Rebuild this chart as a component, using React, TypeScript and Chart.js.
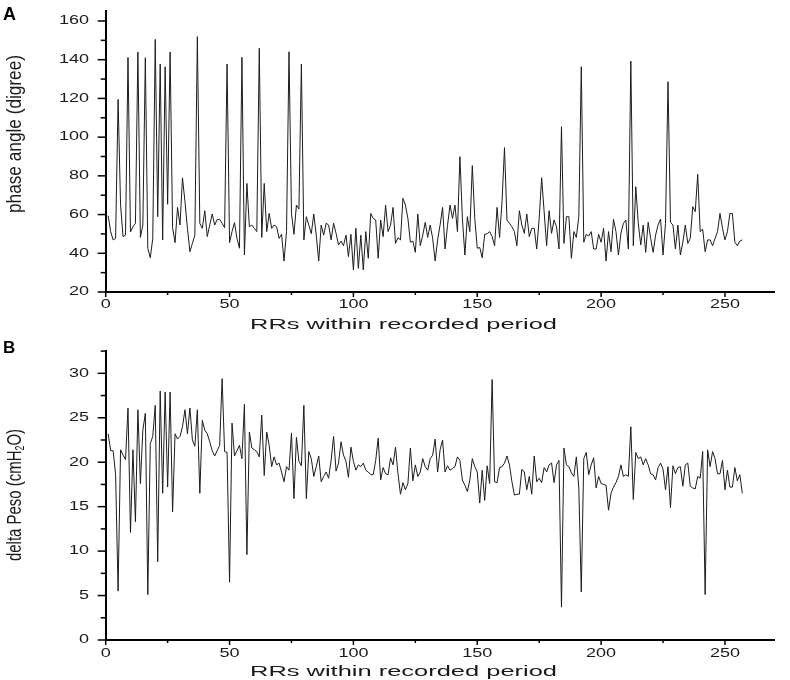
import React, { useEffect, useRef } from 'react';
import { Chart, registerables } from 'chart.js';

Chart.register(...registerables);

// ---------- data ----------
// RR number runs 1..257 (x = position in array + 1)
const phaseAngle: number[] = [
  59.4, 51.2, 46.9, 47.7, 119.5, 65, 48.6, 49.4, 141.2, 51,
  53.7, 55.5, 144, 48.2, 54.6, 141, 42.6, 37.7, 47.7, 150.5,
  58.9, 137.8, 46.9, 136.4, 65.3, 144, 53.2, 45.5, 63.7, 54.6,
  79, 66.7, 52.9, 40.8, 45.1, 49.4, 151.9, 55.5, 52.9, 62,
  48.6, 54.6, 60.3, 54.6, 57.5, 57.5, 55.5, 53.2, 137.8, 45.5,
  51.2, 55.8, 47.7, 42.6, 141.2, 39.1, 76.1, 53.7, 54.6, 52.9,
  51.2, 145.9, 48.2, 76.1, 51.2, 60.6, 52.9, 54.6, 53.7, 47.7,
  49.8, 36, 51.2, 144.1, 60.6, 49.8, 64.9, 62.9, 137.8, 46.9,
  58.9, 54.6, 50.1, 60.3, 49.4, 36, 54.6, 49.4, 55.5, 54.6,
  46.9, 55.5, 50.3, 44.3, 46.3, 43.9, 49.4, 38.3, 49.8, 31.4,
  52.9, 32.2, 49.4, 31.4, 51.2, 37.4, 60.6, 58, 57.2, 37.4,
  57.2, 48.6, 64.9, 51.2, 54.6, 63.7, 45.1, 48.1, 46.9, 68.4,
  64.9, 58, 45.7, 46.3, 40.5, 60.3, 43.9, 49.4, 56, 48.2,
  54.6, 47.7, 36, 46.9, 54.6, 63.7, 42.2, 54.3, 64.9, 58,
  64.9, 51.2, 89.9, 58, 39.1, 58.9, 51.2, 85.3, 58, 42.6,
  43, 37.7, 49.8, 50.1, 51.2, 48.6, 43.9, 63.7, 48.2, 66.7,
  94.6, 57.2, 55.5, 53.7, 51.2, 43.9, 62, 54.6, 50.3, 60.3,
  48.6, 52.9, 52.9, 42.2, 58, 79, 61.5, 43.9, 62, 50.3,
  57.2, 53.7, 42.2, 105.4, 45.1, 58.9, 58.9, 37.4, 51.2, 48.2,
  58.9, 136.4, 45.7, 49.8, 48.9, 51.2, 42.2, 42.2, 49.8, 45.7,
  52.9, 36, 51.2, 40.8, 57.5, 51.2, 39.1, 50.3, 55.5, 57.2,
  42.2, 139.3, 43.9, 74.4, 55.5, 44.3, 54.6, 40.5, 56, 47.7,
  40.5, 49.4, 54.6, 57.7, 39.1, 55.5, 128.6, 56, 54.6, 42.2,
  54.6, 39.1, 45.7, 54.6, 45.1, 47.7, 64.1, 61.5, 80.8, 51.2,
  52.4, 40.8, 46.9, 46.9, 43.9, 47.7, 51.2, 60.6, 52.9, 46.9,
  51.2, 60.6, 60.6, 45.7, 43.9, 46.3, 46.9,
];

const deltaPeso: number[] = [
  23.2, 21.3, 21.3, 18.6, 5.5, 21.4, 20.8, 20.3, 26.1, 12.1,
  21.4, 13.3, 25.9, 17.6, 23.6, 25.5, 5.1, 22.1, 22.9, 26.4,
  8.8, 28, 16.5, 27.9, 17.2, 27.9, 14.4, 23.2, 22.6, 22.9,
  24, 25.9, 23.2, 26.1, 22.5, 21.8, 25.9, 16.5, 24.7, 23.6,
  23.2, 22.3, 21.3, 20.7, 21.3, 21.9, 29.4, 21.2, 21.1, 6.5,
  24.4, 20.7, 21.3, 21.9, 20.4, 26.5, 9.6, 23.4, 21.6, 21.4,
  21.2, 20.6, 25.3, 18.5, 23.4, 21.9, 19.5, 20.6, 19.7, 19.9,
  18.9, 17.8, 19.5, 19.1, 23.3, 15.9, 22.8, 20.1, 19.6, 26.4,
  15.9, 21.2, 20.4, 18.4, 19.5, 20.7, 17.8, 18.4, 18.9, 18.2,
  20.2, 22.9, 19, 19.9, 22.3, 20.8, 20.1, 18.3, 21.7, 20.1,
  19.1, 19.7, 19.5, 19.9, 19.1, 18.9, 18.6, 18.6, 20.2, 22.7,
  18, 19.4, 18.7, 18.6, 20.5, 19.7, 21.7, 18.7, 16.4, 17.7,
  16.9, 17.6, 21.6, 17.9, 19.7, 18.4, 18.9, 20.4, 19.5, 19.1,
  20.4, 20.8, 22.6, 18.9, 21.4, 22.5, 18.9, 19.6, 19.1, 19.3,
  19.5, 20.6, 20.2, 18, 17.4, 16.7, 18, 20.4, 19.5, 18.9,
  15.4, 19.1, 15.7, 19.6, 17.6, 29.3, 17.8, 17.7, 19.4, 19.5,
  19.9, 20.7, 19.7, 17.8, 16.3, 16.4, 16.4, 19.2, 18.9, 16.9,
  18.4, 16.4, 20.7, 17.8, 18.2, 17.7, 19.4, 18.9, 19.7, 19.9,
  17.7, 19.7, 20.2, 3.7, 21.6, 19.7, 19.5, 18.8, 18.4, 20.6,
  17.1, 5.4, 20.4, 21.1, 18.6, 19.7, 20.5, 17.1, 18.4, 17.6,
  17.5, 17.4, 14.6, 16.5, 17.2, 17.7, 18.4, 19.7, 18.4, 18.6,
  18.4, 24, 15.8, 21.1, 20.4, 20.6, 19.7, 20.4, 19.7, 18.7,
  18.6, 18, 19.4, 19.9, 19.2, 16.9, 19.5, 14.9, 19.6, 18.7,
  19.4, 19.5, 17.3, 19.7, 19.9, 17.3, 17.1, 17, 18.4, 18.2,
  21.2, 5.1, 21.4, 19.5, 21.2, 20.4, 18.7, 18.7, 20.2, 16.9,
  19.1, 17.2, 17.2, 19.4, 17.9, 18.6, 16.5,
];

const xTickLabels: number[] = [0, 50, 100, 150, 200, 250];
const yTickLabelsA: number[] = [20, 40, 60, 80, 100, 120, 140, 160];
const yTickLabelsB: number[] = [0, 5, 10, 15, 20, 25, 30];

const xTitle = 'RRs within recorded period';
const yTitleA = [{ text: 'phase angle (digree)' }];
const yTitleB = [{ text: 'delta Peso (cmH' }, { text: '2', sub: true }, { text: 'O)' }];

// ---------- styling / layout ----------
const FONT = '"Liberation Sans", Arial, Helvetica, sans-serif';
const X_MIN = 0, X_MAX = 270;
const Y_AXIS_WIDTH = 105.7;

type Part = { text: string; sub?: boolean };
type Panel = {
  letter: string; letterSize: number; letterBase: number;
  values: number[]; yMin: number; yMax: number; yMinor: number; yMajor: number; yLabels: number[];
  height: number; top: number; xAxisHeight: number;
  xLabelY: number; xTitleY: number; yTitle: Part[]; yTitleCY: number; yTitleLen: number;
};

const panelA: Panel = {
  letter: 'A', letterSize: 18, letterBase: 20,
  values: phaseAngle, yMin: 20, yMax: 165, yMinor: 10, yMajor: 20, yLabels: yTickLabelsA,
  height: 335, top: 11.3, xAxisHeight: 43,
  xLabelY: 305, xTitleY: 325, yTitle: yTitleA, yTitleCY: 134, yTitleLen: 158,
};
const panelB: Panel = {
  letter: 'B', letterSize: 17, letterBase: 18,
  values: deltaPeso, yMin: 0, yMax: 32.5, yMinor: 2.5, yMajor: 5, yLabels: yTickLabelsB,
  height: 345, top: 16.1, xAxisHeight: 40,
  xLabelY: 319, xTitleY: 337, yTitle: yTitleB, yTitleCY: 160, yTitleLen: 132,
};

function stretched(ctx: CanvasRenderingContext2D, text: string, x: number, y: number, sx: number) {
  ctx.save();
  ctx.translate(x, y);
  ctx.scale(sx, 1);
  ctx.textAlign = 'center';
  ctx.textBaseline = 'middle';
  ctx.fillText(text, 0, 0);
  ctx.restore();
}

function decorPlugin(p: Panel) {
  return {
    id: 'panelDecor',
    afterDraw(chart: any) {
      const ctx: CanvasRenderingContext2D = chart.ctx;
      const xs = chart.scales.x;
      const ys = chart.scales.y;
      const { left, bottom } = chart.chartArea;
      ctx.save();
      ctx.strokeStyle = '#000';
      ctx.fillStyle = '#1a1a1a';
      ctx.lineWidth = 1.5;
      // y tick marks
      for (let v = p.yMin; v <= p.yMax + 1e-6; v += p.yMinor) {
        const y = ys.getPixelForValue(v);
        const major = Math.abs(((v - p.yMin) / p.yMajor) - Math.round((v - p.yMin) / p.yMajor)) < 1e-6;
        ctx.beginPath();
        ctx.moveTo(left - (major ? 8 : 5), y);
        ctx.lineTo(left, y);
        ctx.stroke();
      }
      // x tick marks
      for (let v = X_MIN; v <= X_MAX; v += 25) {
        const x = xs.getPixelForValue(v);
        const major = v % 50 === 0;
        ctx.beginPath();
        ctx.moveTo(x, bottom);
        ctx.lineTo(x, bottom + (major ? 5 : 3));
        ctx.stroke();
      }
      // tick labels
      ctx.font = `12px ${FONT}`;
      for (const v of p.yLabels) {
        const y = ys.getPixelForValue(v);
        const t = String(v);
        const w = ctx.measureText(t).width * 1.5;
        stretched(ctx, t, 89 - w / 2, y, 1.5);
      }
      for (const v of xTickLabels) {
        stretched(ctx, String(v), xs.getPixelForValue(v), p.xLabelY, 1.5);
      }
      // x title
      ctx.font = `15px ${FONT}`;
      const tw = ctx.measureText(xTitle).width;
      stretched(ctx, xTitle, 403.5, p.xTitleY, 307 / tw);
      // y title (rotated, condensed, with optional subscript)
      const fs = 20;
      const subFs = 12;
      const widths = p.yTitle.map((pt) => {
        ctx.font = `${pt.sub ? subFs : fs}px ${FONT}`;
        return ctx.measureText(pt.text).width;
      });
      const total = widths.reduce((a, b) => a + b, 0);
      ctx.save();
      ctx.translate(15, p.yTitleCY);
      ctx.rotate(-Math.PI / 2);
      ctx.scale(p.yTitleLen / total, 1);
      ctx.textAlign = 'left';
      ctx.textBaseline = 'middle';
      let cx = -total / 2;
      p.yTitle.forEach((pt, k) => {
        ctx.font = `${pt.sub ? subFs : fs}px ${FONT}`;
        ctx.fillText(pt.text, cx, pt.sub ? 6 : 0);
        cx += widths[k];
      });
      ctx.restore();
      // panel letter
      ctx.fillStyle = '#000';
      ctx.font = `bold ${p.letterSize}px ${FONT}`;
      ctx.textAlign = 'left';
      ctx.textBaseline = 'alphabetic';
      ctx.fillText(p.letter, 3, p.letterBase);
      ctx.restore();
    },
  };
}

function makeConfig(p: Panel): any {
  return {
    type: 'line',
    data: {
      datasets: [
        {
          data: p.values.map((v, k) => ({ x: k + 1, y: v })),
          borderColor: '#1c1c1c',
          borderWidth: 1,
          pointRadius: 0,
          tension: 0,
          fill: false,
        },
      ],
    },
    options: {
      responsive: false,
      maintainAspectRatio: false,
      animation: false,
      events: [],
      layout: { padding: { left: 0, top: p.top, right: 790 - (Y_AXIS_WIDTH + 668.8), bottom: 0 } },
      plugins: { legend: { display: false }, tooltip: { enabled: false }, title: { display: false } },
      scales: {
        x: {
          type: 'linear', min: X_MIN, max: X_MAX,
          ticks: { display: false },
          grid: { display: false },
          border: { display: true, color: '#000', width: 2 },
          afterFit: (s: any) => { s.height = p.xAxisHeight; },
        },
        y: {
          type: 'linear', min: p.yMin, max: p.yMax,
          ticks: { display: false },
          grid: { display: false },
          border: { display: true, color: '#000', width: 2 },
          afterFit: (s: any) => { s.width = Y_AXIS_WIDTH; },
        },
      },
    },
    plugins: [decorPlugin(p)],
  };
}

export default function App() {
  const refA = useRef<HTMLCanvasElement>(null);
  const refB = useRef<HTMLCanvasElement>(null);
  useEffect(() => {
    const a = new Chart(refA.current as HTMLCanvasElement, makeConfig(panelA));
    const b = new Chart(refB.current as HTMLCanvasElement, makeConfig(panelB));
    return () => {
      a.destroy();
      b.destroy();
    };
  }, []);
  return (
    <div style={{ position: 'absolute', left: 0, top: 0, width: 790, height: 680, background: '#fff' }}>
      <canvas ref={refA} width={790} height={335} style={{ position: 'absolute', left: 0, top: 0 }} />
      <canvas ref={refB} width={790} height={345} style={{ position: 'absolute', left: 0, top: 335 }} />
    </div>
  );
}
